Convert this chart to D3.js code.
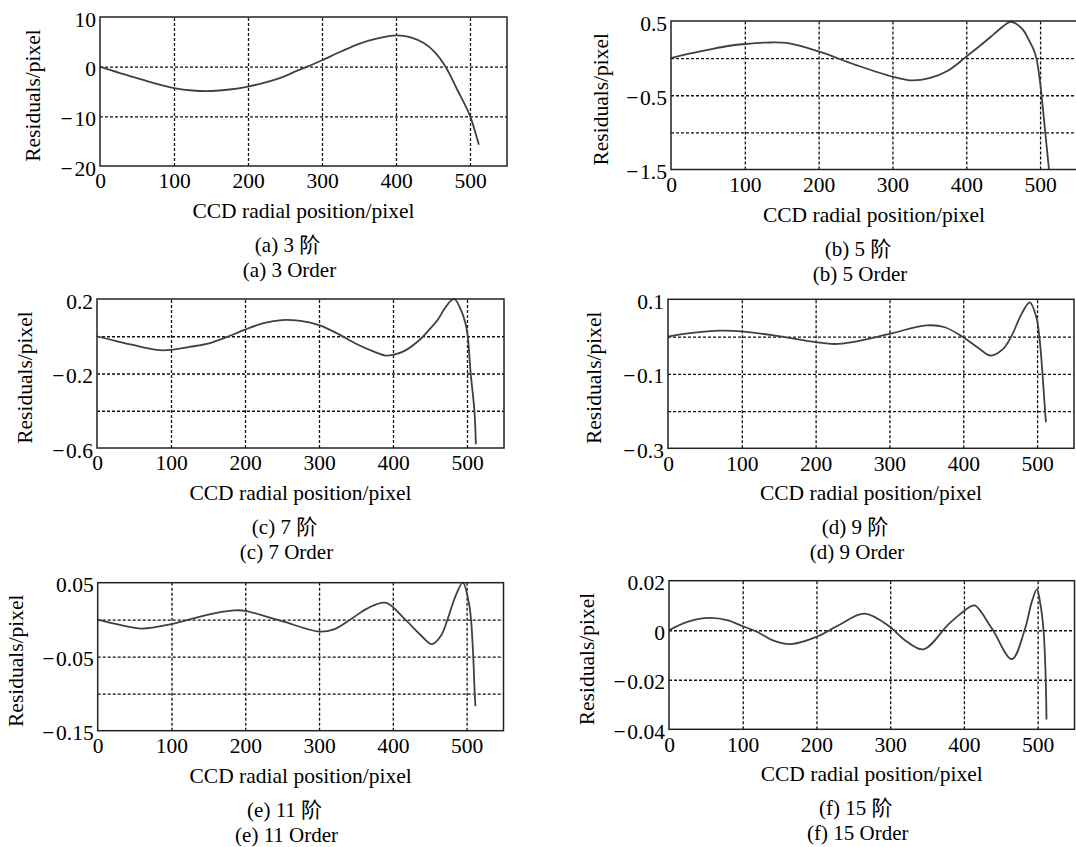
<!DOCTYPE html>
<html>
<head>
<meta charset="utf-8">
<script src="https://cdn.jsdelivr.net/npm/d3@7"></script>
<style>
  body { margin: 0; background: #fff; }
  text { font-family: "Liberation Serif", "Times New Roman", "Noto Sans CJK SC", serif; fill: #000; }
</style>
</head>
<body>
<svg id="chart" width="1076" height="847"></svg>
<script>
// x positions / residuals
var xTicks = [0, 100, 200, 300, 400, 500];

var order3X = [0, 25, 50, 75, 100, 125, 150, 175, 200, 225, 250, 265, 280, 300, 325, 350, 375, 400, 420, 438, 452, 467, 483, 500, 512];
var order3Y = [0, -1.2, -2.3, -3.4, -4.3, -4.8, -4.9, -4.6, -4.0, -3.1, -1.9, -0.9, 0, 1.3, 3.0, 4.6, 5.7, 6.3, 5.9, 4.7, 3.0, 0, -4.7, -9.9, -15.7];

var order5X = [0, 25, 50, 75, 100, 130, 160, 200, 250, 300, 325, 350, 375, 400, 419, 437, 450, 460, 468, 477, 486, 491, 495, 499, 502, 507, 512];
var order5Y = [0, 0.06, 0.11, 0.16, 0.19, 0.21, 0.2, 0.09, -0.09, -0.25, -0.3, -0.27, -0.17, 0.02, 0.17, 0.32, 0.43, 0.49, 0.46, 0.38, 0.22, 0.12, 0.0, -0.25, -0.5, -1.0, -1.5];

var order7X = [0, 25, 50, 85, 100, 125, 150, 175, 200, 225, 250, 275, 300, 325, 350, 375, 390, 400, 415, 438, 450, 460, 470, 478, 483, 492, 498, 501, 505, 510, 512];
var order7Y = [0, -0.025, -0.048, -0.075, -0.073, -0.057, -0.04, -0.005, 0.036, 0.07, 0.087, 0.082, 0.06, 0.014, -0.04, -0.084, -0.104, -0.1, -0.08, -0.012, 0.04, 0.086, 0.15, 0.19, 0.2, 0.14, 0.068, 0.0, -0.2, -0.4, -0.58];

var order9X = [0, 30, 70, 100, 150, 200, 225, 250, 300, 350, 375, 400, 420, 437, 454, 465, 479, 490, 499, 503.6, 507.3, 510.8, 512];
var order9Y = [0, 0.009, 0.016, 0.014, 0.001, -0.015, -0.02, -0.015, 0.007, 0.03, 0.025, -0.002, -0.03, -0.051, -0.033, 0.0, 0.061, 0.092, 0.052, -0.011, -0.1, -0.2, -0.23];

var order11X = [0, 30, 60, 100, 150, 185, 200, 250, 300, 320, 345, 365, 390, 417, 437, 453, 465, 474, 485, 495, 503, 506, 509, 511, 512];
var order11Y = [0, -0.007, -0.012, -0.006, 0.007, 0.0126, 0.012, -0.002, -0.016, -0.013, 0.002, 0.015, 0.023, 0.0, -0.02, -0.033, -0.022, 0.0, 0.032, 0.05, 0.023, 0.0, -0.05, -0.1, -0.117];

var order15X = [0, 25, 55, 80, 100, 120, 140, 165, 200, 230, 265, 300, 320, 345, 380, 408, 415, 438, 465, 483, 492, 499, 504, 508, 511, 512];
var order15Y = [0, 0.0034, 0.005, 0.004, 0.0016, -0.0007, -0.004, -0.0056, -0.0027, 0.002, 0.0067, 0.0013, -0.004, -0.0077, 0.0027, 0.0094, 0.01, 0.0007, -0.0117, 0.0007, 0.0114, 0.0165, 0.010, 0.0, -0.02, -0.036];

// y grid ticks and the subset that carries a label
var gridA = [10, 0, -10, -20],        labelA = [10, 0, -10, -20];
var gridB = [0.5, 0, -0.5, -1, -1.5], labelB = [0.5, -0.5, -1.5];
var gridC = [0.2, 0, -0.2, -0.4, -0.6], labelC = [0.2, -0.2, -0.6];
var gridD = [0.1, 0, -0.1, -0.2, -0.3], labelD = [0.1, -0.1, -0.3];
var gridE = [0.05, 0, -0.05, -0.1, -0.15], labelE = [0.05, -0.05, -0.15];
var gridF = [0.02, 0, -0.02, -0.04],  labelF = [0.02, 0, -0.02, -0.04];

var captionsCn = ["(a) 3 阶", "(b) 5 阶", "(c) 7 阶", "(d) 9 阶", "(e) 11 阶", "(f) 15 阶"];
var captionsEn = ["(a) 3 Order", "(b) 5 Order", "(c) 7 Order", "(d) 9 Order", "(e) 11 Order", "(f) 15 Order"];

var xLabel = "CCD radial position/pixel";
var yLabel = "Residuals/pixel";

var panels = [
  {xs: order3X,  ys: order3Y,  grid: gridA, labels: labelA, box: [100, 507, 17, 166],     ylab: -60},
  {xs: order5X,  ys: order5Y,  grid: gridB, labels: labelB, box: [671, 1077, 21, 169.5],  ylab: -63},
  {xs: order7X,  ys: order7Y,  grid: gridC, labels: labelC, box: [97, 504, 299, 448],     ylab: -65},
  {xs: order9X,  ys: order9Y,  grid: gridD, labels: labelD, box: [668, 1074, 299.3, 448.3], ylab: -67},
  {xs: order11X, ys: order11Y, grid: gridE, labels: labelE, box: [97.7, 503.5, 582.7, 730.7], ylab: -75},
  {xs: order15X, ys: order15Y, grid: gridF, labels: labelF, box: [669, 1074.5, 580.7, 729.3], ylab: -75}
];

var svg = d3.select("#chart");

function fmt(v) { return String(v).replace("-", "\u2212\u200a"); }

panels.forEach(function(p, i) {
  var l = p.box[0], r = p.box[1], t = p.box[2], b = p.box[3];
  var x = d3.scaleLinear().domain([0, 550]).range([l, r]);
  var y = d3.scaleLinear().domain([d3.min(p.grid), d3.max(p.grid)]).range([b, t]);
  var g = svg.append("g").attr("class", "panel" + i);

  // dotted grid
  g.append("g").attr("transform", "translate(0," + b + ")")
    .call(d3.axisBottom(x).tickValues(xTicks.slice(1)).tickSize(-(b - t)).tickFormat(""))
    .call(function(s) {
      s.select(".domain").remove();
      s.selectAll("line").attr("stroke", "#111").attr("stroke-width", 1.3).attr("stroke-dasharray", "3,2");
    });
  g.append("g").attr("transform", "translate(" + l + ",0)")
    .call(d3.axisLeft(y).tickValues(p.grid.slice(1, -1)).tickSize(-(r - l)).tickFormat(""))
    .call(function(s) {
      s.select(".domain").remove();
      s.selectAll("line").attr("stroke", "#111").attr("stroke-width", 1.3).attr("stroke-dasharray", "3,2");
    });

  // tick labels
  g.append("g").attr("transform", "translate(0," + b + ")")
    .call(d3.axisBottom(x).tickValues(xTicks).tickSize(0).tickPadding(7).tickFormat(fmt))
    .call(function(s) {
      s.select(".domain").remove();
      s.selectAll("text").style("font-size", "21.5px").attr("fill", "#000");
    });
  g.append("g").attr("transform", "translate(" + l + ",0)")
    .call(d3.axisLeft(y).tickValues(p.labels).tickSize(0).tickPadding(4).tickFormat(fmt))
    .call(function(s) {
      s.select(".domain").remove();
      s.selectAll("text").style("font-size", "21.5px").attr("fill", "#000").attr("dy", "0.42em");
    });

  // curve
  var line = d3.line()
    .x(function(d) { return x(d[0]); })
    .y(function(d) { return y(d[1]); })
    .curve(d3.curveCatmullRom.alpha(0.5));
  g.append("path")
    .datum(d3.zip(p.xs, p.ys))
    .attr("d", line)
    .attr("fill", "none")
    .attr("stroke", "#404040")
    .attr("stroke-width", 1.8);

  // frame
  g.append("rect")
    .attr("x", l).attr("y", t)
    .attr("width", r - l).attr("height", b - t)
    .attr("fill", "none").attr("stroke", "#222").attr("stroke-width", 1.5);

  // axis titles
  g.append("text")
    .attr("x", (l + r) / 2).attr("y", b + 52)
    .attr("text-anchor", "middle")
    .style("font-size", "21.5px")
    .text(xLabel);
  g.append("text")
    .attr("transform", "translate(" + (l + p.ylab) + "," + ((t + b) / 2 + 4) + ") rotate(-90)")
    .attr("text-anchor", "middle")
    .style("font-size", "21.5px")
    .text(yLabel);

  // captions
  g.append("text")
    .attr("x", (l + r) / 2 - 16).attr("y", b + 86)
    .attr("text-anchor", "middle")
    .style("font-size", "21px")
    .text(captionsCn[i]);
  g.append("text")
    .attr("x", (l + r) / 2 - 14).attr("y", b + 111)
    .attr("text-anchor", "middle")
    .style("font-size", "21px")
    .text(captionsEn[i]);
});
</script>
</body>
</html>
